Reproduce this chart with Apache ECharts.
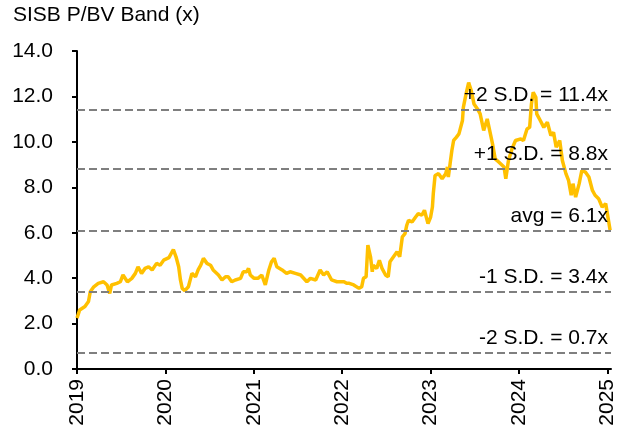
<!DOCTYPE html>
<html>
<head>
<meta charset="utf-8">
<script src="https://cdn.jsdelivr.net/npm/echarts@6/dist/echarts.min.js"></script>
<style>
  html, body { margin: 0; padding: 0; background: #fff; }
  #chart { width: 624px; height: 434px; }
</style>
</head>
<body>
<div id="chart"></div>
<script>
// time position in decimal years
var yearPos = [
  2019.00, 2019.03, 2019.09, 2019.13, 2019.15, 2019.19, 2019.24, 2019.30, 2019.34, 2019.37,
  2019.39, 2019.45, 2019.49, 2019.52, 2019.54, 2019.57, 2019.62, 2019.66, 2019.69, 2019.73,
  2019.77, 2019.81, 2019.85, 2019.90, 2019.94, 2019.98, 2020.00, 2020.04, 2020.09, 2020.12,
  2020.15, 2020.17, 2020.19, 2020.22, 2020.26, 2020.30, 2020.34, 2020.37, 2020.40, 2020.43,
  2020.47, 2020.51, 2020.54, 2020.60, 2020.64, 2020.68, 2020.71, 2020.75, 2020.79, 2020.85,
  2020.88, 2020.92, 2020.94, 2020.96, 2021.00, 2021.05, 2021.09, 2021.13, 2021.17, 2021.20,
  2021.23, 2021.26, 2021.32, 2021.37, 2021.41, 2021.47, 2021.53, 2021.60, 2021.64, 2021.70,
  2021.75, 2021.79, 2021.83, 2021.88, 2021.94, 2021.98, 2022.02, 2022.05, 2022.08, 2022.13,
  2022.19, 2022.22, 2022.24, 2022.27, 2022.29, 2022.32, 2022.34, 2022.35, 2022.39, 2022.42,
  2022.45, 2022.49, 2022.52, 2022.54, 2022.58, 2022.62, 2022.65, 2022.68, 2022.71, 2022.73,
  2022.75, 2022.79, 2022.83, 2022.86, 2022.90, 2022.93, 2022.97, 2023.00, 2023.02, 2023.03,
  2023.05, 2023.09, 2023.13, 2023.17, 2023.19, 2023.20, 2023.22, 2023.24, 2023.26, 2023.29,
  2023.32, 2023.36, 2023.37, 2023.40, 2023.43, 2023.46, 2023.49, 2023.53, 2023.56, 2023.60,
  2023.64, 2023.66, 2023.70, 2023.73, 2023.77, 2023.83, 2023.85, 2023.88, 2023.92, 2023.96,
  2024.02, 2024.05, 2024.09, 2024.12, 2024.14, 2024.16, 2024.19, 2024.20, 2024.24, 2024.28,
  2024.32, 2024.36, 2024.39, 2024.42, 2024.46, 2024.49, 2024.53, 2024.56, 2024.59, 2024.61,
  2024.64, 2024.68, 2024.71, 2024.75, 2024.79, 2024.83, 2024.86, 2024.90, 2024.94, 2024.98,
  2025.00, 2025.03
];
var pbv = [
  2.24, 2.60, 2.75, 2.97, 3.40, 3.62, 3.77, 3.84, 3.70, 3.33,
  3.70, 3.77, 3.84, 4.14, 4.06, 3.84, 3.99, 4.21, 4.50, 4.21,
  4.43, 4.50, 4.36, 4.65, 4.57, 4.79, 4.72, 4.90, 5.26, 4.94,
  4.50, 3.92, 3.55, 3.45, 3.62, 4.21, 4.06, 4.36, 4.57, 4.87,
  4.65, 4.57, 4.36, 4.14, 3.92, 4.06, 4.06, 3.84, 3.92, 3.99,
  4.28, 4.28, 4.43, 4.14, 4.00, 4.00, 4.14, 3.70, 4.36, 4.72,
  4.87, 4.50, 4.36, 4.21, 4.28, 4.21, 4.14, 3.84, 3.99, 3.92,
  4.36, 4.14, 4.28, 3.92, 3.84, 3.84, 3.84, 3.77, 3.77, 3.70,
  3.55, 3.62, 3.99, 4.06, 5.45, 4.94, 4.28, 4.57, 4.43, 4.79,
  4.43, 4.14, 4.06, 4.72, 4.94, 5.16, 4.94, 5.82, 5.96, 6.33,
  6.55, 6.47, 6.69, 6.84, 6.77, 6.99, 6.40, 6.69, 7.13, 7.72,
  8.52, 8.60, 8.38, 8.60, 8.89, 8.45, 9.04, 9.62, 10.06, 10.20,
  10.35, 10.94, 11.52, 12.10, 12.61, 12.25, 11.67, 11.45, 11.23, 10.50,
  11.01, 10.94, 9.91, 9.25, 9.11, 8.89, 8.38, 9.18, 9.69, 10.06,
  10.13, 10.06, 10.57, 10.64, 11.67, 12.18, 11.96, 11.23, 10.94, 10.64,
  10.86, 10.28, 10.42, 9.77, 10.06, 9.18, 8.60, 8.30, 7.65, 8.16,
  7.57, 8.16, 8.74, 8.67, 8.45, 7.86, 7.65, 7.50, 7.13, 7.28,
  7.28, 6.11
];

// band lines
var bandValues = [11.4, 8.8, 6.1, 3.4, 0.7];
var bandLabels = ['+2 S.D. = 11.4x', '+1 S.D. = 8.8x', 'avg = 6.1x', '-1 S.D. = 3.4x', '-2 S.D. = 0.7x'];
var yearTicks = [2019, 2020, 2021, 2022, 2023, 2024, 2025];

var chart = echarts.init(document.getElementById('chart'));

var lineData = [];
for (var i = 0; i < yearPos.length; i++) {
  lineData.push([yearPos[i], pbv[i]]);
}

var marks = [];
for (var j = 0; j < bandValues.length; j++) {
  marks.push({ yAxis: bandValues[j], label: { formatter: bandLabels[j] } });
}

var font = 'Liberation Sans, Arial, sans-serif';

var option = {
  animation: false,
  title: {
    text: 'SISB P/BV Band (x)',
    left: 8,
    top: 0,
    textStyle: { fontFamily: font, fontSize: 21, fontWeight: 'normal', color: '#000' }
  },
  grid: { left: 77, right: 13, top: 51, bottom: 65 },
  xAxis: {
    type: 'value',
    min: 2019,
    max: 2025.04,
    interval: 1,
    splitLine: { show: false },
    axisLine: { lineStyle: { color: '#000', width: 2 } },
    axisTick: { length: 5, lineStyle: { color: '#000', width: 2 }, customValues: yearTicks },
    axisLabel: {
      customValues: yearTicks,
      rotate: 90,
      margin: 10,
      fontFamily: font,
      fontSize: 21,
      color: '#000',
      formatter: function (v) { return String(Math.round(v)); }
    }
  },
  yAxis: {
    type: 'value',
    min: 0,
    max: 14,
    interval: 2,
    splitLine: { show: false },
    axisLine: { show: true, lineStyle: { color: '#000', width: 2 } },
    axisTick: { show: true, length: 5, lineStyle: { color: '#000', width: 2 } },
    axisLabel: {
      margin: 24,
      fontFamily: font,
      fontSize: 21,
      color: '#000',
      formatter: function (v) { return v.toFixed(1); }
    }
  },
  series: [{
    type: 'line',
    data: lineData,
    showSymbol: false,
    symbol: 'none',
    lineStyle: { color: '#FFC000', width: 3.5 },
    z: 3,
    markLine: {
      silent: true,
      symbol: 'none',
      lineStyle: { color: '#7F7F7F', type: [8, 4], width: 2.2 },
      label: {
        position: 'insideEndTop',
        distance: [3, 4],
        fontFamily: font,
        fontSize: 21,
        color: '#000'
      },
      data: marks
    }
  }]
};

chart.setOption(option);
</script>
</body>
</html>
